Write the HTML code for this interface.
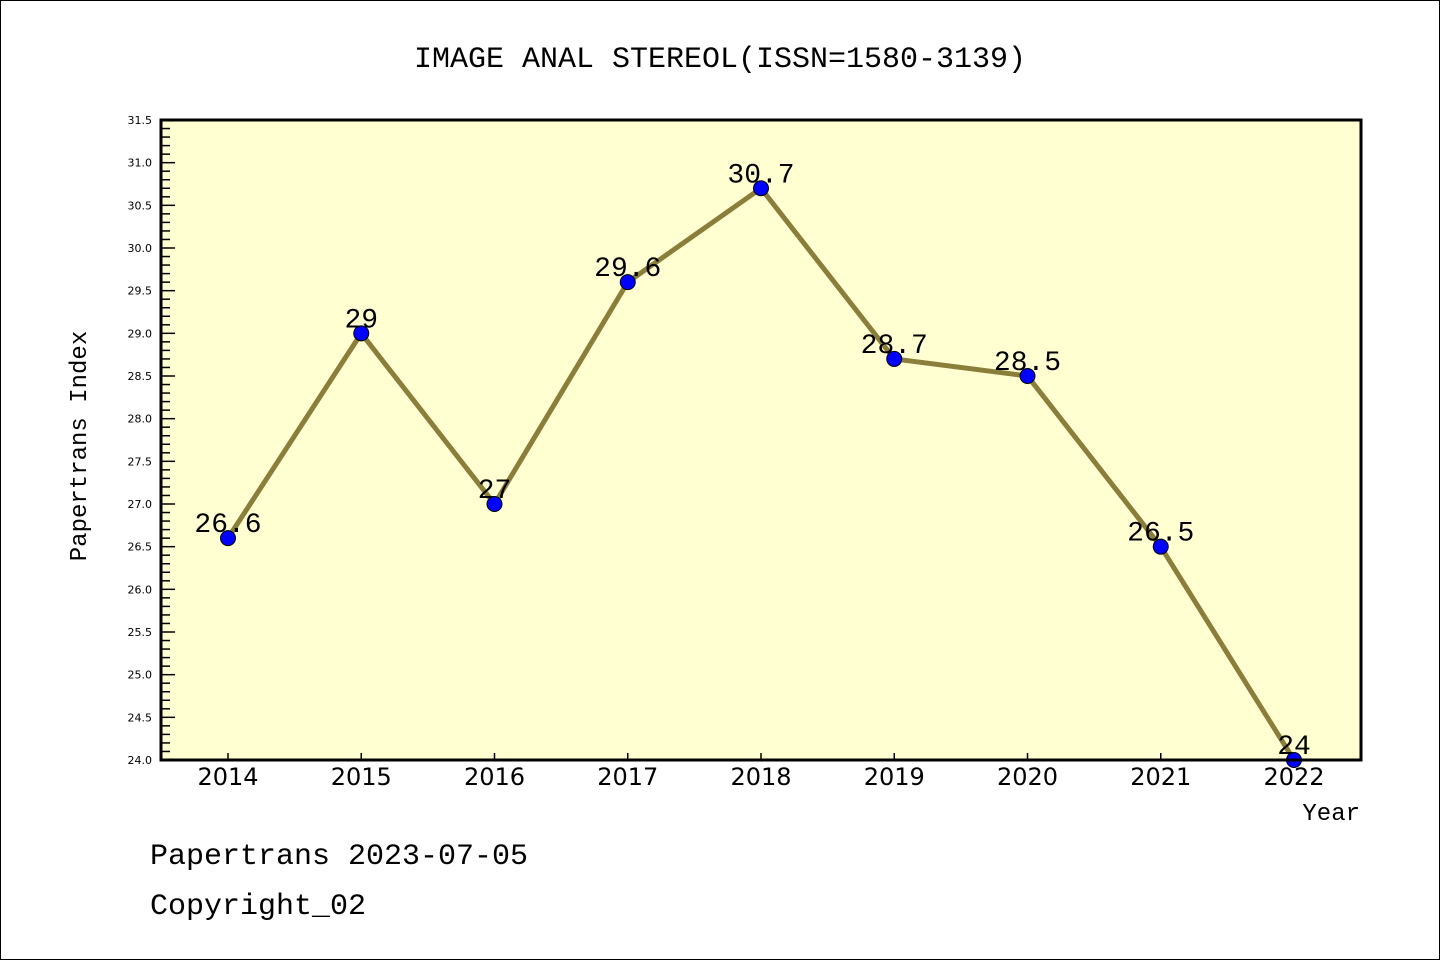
<!DOCTYPE html>
<html><head><meta charset="utf-8"><style>
html,body{margin:0;padding:0;background:#fff}
svg{display:block}
text{font-family:"Liberation Mono","DejaVu Sans Mono",monospace}
</style></head><body>
<svg id="c" width="1440" height="960" xmlns="http://www.w3.org/2000/svg">
<rect x="0.5" y="0.5" width="1439" height="959" fill="#fff" stroke="#000"/>
<text x="720" y="67" font-size="30" text-anchor="middle">IMAGE ANAL STEREOL(ISSN=1580-3139)</text>
<rect x="161" y="120" width="1200" height="640" fill="#ffffd2"/>
<g id="axes"></g>
<g id="series"></g>
<rect x="161" y="120" width="1200" height="640" fill="none" stroke="#000" stroke-width="3"/>
<text x="86" y="446" font-size="24" text-anchor="middle" transform="rotate(-90 86 446)">Papertrans Index</text>
<text x="1360" y="820" font-size="24" text-anchor="end">Year</text>
<text x="150" y="864" font-size="30">Papertrans 2023-07-05</text>
<text x="150" y="914" font-size="30">Copyright_02</text>
</svg>
<script>
const years=["2014","2015","2016","2017","2018","2019","2020","2021","2022"];
const values=[26.6,29,27,29.6,30.7,28.7,28.5,26.5,24];
const valueLabels=["26.6","29","27","29.6","30.7","28.7","28.5","26.5","24"];
const yMin=24.0,yMax=31.5;
const NS="http://www.w3.org/2000/svg";
const X0=161,X1=1361,Y0=760,Y1=120;
function xs(i){return 228+i*(1294-228)/(years.length-1);}
function ys(v){return Y0-(v-yMin)/(yMax-yMin)*(Y0-Y1);}
function mk(tag,attrs,parent){const e=document.createElementNS(NS,tag);for(const k in attrs)e.setAttribute(k,attrs[k]);parent.appendChild(e);return e;}
const ax=document.getElementById('axes'),se=document.getElementById('series');
for(let k=0;k<=75;k++){const v=yMin+k*0.1;const y=ys(v);const major=k%5===0;
 const t=mk('line',{x1:X0,x2:X0+(major?14:9),y1:y,y2:y,stroke:'#000','stroke-width':1.5},ax);
 
 
 if(major){const l=mk('text',{x:152,y:y+4,'font-size':11,'text-anchor':'end',style:'font-family:"DejaVu Sans",sans-serif'},ax);l.textContent=v.toFixed(1);
 
 }}
years.forEach((yr,i)=>{const x=xs(i);
 const t=mk('line',{x1:x,x2:x,y1:Y0,y2:Y0-7,stroke:'#000','stroke-width':1.5},ax);
 
 
 const l=mk('text',{x:x,y:785,'font-size':24,'text-anchor':'middle',style:'font-family:"DejaVu Sans",sans-serif'},ax);l.textContent=yr;
 
 });
const pts=values.map((v,i)=>xs(i)+','+ys(v)).join(' ');
const pl=mk('polyline',{points:pts,fill:'none',stroke:'#8b7d3a','stroke-width':5,'stroke-linejoin':'round'},se);


values.forEach((v,i)=>{const c=mk('circle',{cx:xs(i),cy:ys(v),r:7.5,fill:'#0000ff',stroke:'#000','stroke-width':1},se);
 
 
 const l=mk('text',{x:xs(i),y:ys(v)-6,'font-size':28,'text-anchor':'middle'},se);l.textContent=valueLabels[i];
 
 });
</script>
</body></html>
